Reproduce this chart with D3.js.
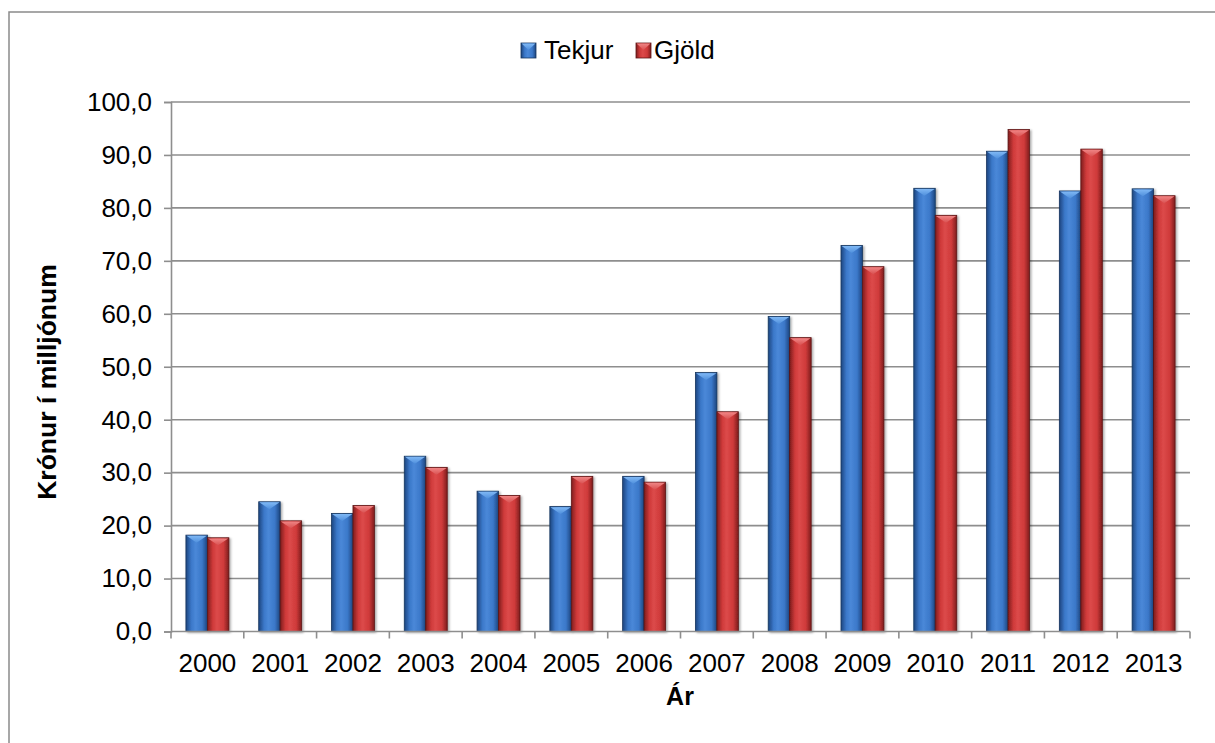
<!DOCTYPE html>
<html>
<head>
<meta charset="utf-8">
<script src="https://cdn.jsdelivr.net/npm/d3@7"></script>
<style>
  body { margin: 0; background: #fff; }
  svg { display: block; font-family: Arial, "Liberation Sans", sans-serif; }
</style>
</head>
<body>
<div id="chart"></div>
<script>
var years = ["2000","2001","2002","2003","2004","2005","2006","2007","2008","2009","2010","2011","2012","2013"];
var tekjur = [18.2, 24.5, 22.3, 33.1, 26.5, 23.6, 29.3, 48.9, 59.5, 72.9, 83.7, 90.7, 83.2, 83.6];
var gjold  = [17.7, 20.9, 23.8, 31.0, 25.7, 29.3, 28.2, 41.5, 55.5, 68.9, 78.6, 94.8, 91.1, 82.3];
var seriesNames = ["Tekjur", "Gjöld"];
var yTicks = [0, 10, 20, 30, 40, 50, 60, 70, 80, 90, 100];

function BarChart() {
  var W = 1215, H = 743;
  var left = 171, right = 1190, top = 102, bottom = 631.5;

  var svg = d3.select("#chart").append("svg")
    .attr("width", W)
    .attr("height", H);

  var defs = svg.append("defs");

  // cylinder-ish horizontal shading for each colour
  var palettes = {
    Tekjur: { edge: "#1d457f", mid: "#3b78c9", light: "#4a88d8", tip: "#7fb8f5", tipEdge: "#4f8fdc" },
    "Gjöld": { edge: "#7e1d1d", mid: "#cf3a3a", light: "#dc4a4a", tip: "#f08585", tipEdge: "#d95050" }
  };
  seriesNames.forEach(function(name, i) {
    var p = palettes[name];
    var g = defs.append("linearGradient").attr("id", "body" + i)
      .attr("x1", "0").attr("x2", "1").attr("y1", "0").attr("y2", "0");
    g.append("stop").attr("offset", "0%").attr("stop-color", p.edge);
    g.append("stop").attr("offset", "25%").attr("stop-color", p.mid);
    g.append("stop").attr("offset", "45%").attr("stop-color", p.light);
    g.append("stop").attr("offset", "75%").attr("stop-color", p.mid);
    g.append("stop").attr("offset", "100%").attr("stop-color", p.edge);

    var t = defs.append("linearGradient").attr("id", "tip" + i)
      .attr("x1", "0").attr("x2", "0").attr("y1", "0").attr("y2", "1");
    t.append("stop").attr("offset", "0%").attr("stop-color", p.tip);
    t.append("stop").attr("offset", "100%").attr("stop-color", p.tipEdge);
  });

  var shadow = defs.append("filter").attr("id", "shadow")
    .attr("x", "-20%").attr("y", "-5%").attr("width", "150%").attr("height", "115%");
  shadow.append("feDropShadow").attr("dx", 1.5).attr("dy", 1).attr("stdDeviation", 1.2)
    .attr("flood-color", "#000").attr("flood-opacity", 0.35);

  // outer chart border (runs off the right/bottom edge)
  svg.append("rect")
    .attr("x", 9).attr("y", 12)
    .attr("width", 1230).attr("height", 760)
    .attr("fill", "none")
    .attr("stroke", "#8a8a8a")
    .attr("stroke-width", 1.5);

  var xScale = d3.scaleBand()
    .domain(years)
    .range([left, right])
    .paddingInner(0.41)
    .paddingOuter(0.205);

  var xSeries = d3.scaleBand()
    .domain(seriesNames)
    .range([0, xScale.bandwidth()]);

  var yScale = d3.scaleLinear()
    .domain([0, 100])
    .range([bottom, top]);

  // gridlines
  svg.append("g")
    .selectAll("line")
    .data(yTicks.slice(1))
    .enter()
    .append("line")
    .attr("x1", left).attr("x2", right)
    .attr("y1", function(d) { return yScale(d); })
    .attr("y2", function(d) { return yScale(d); })
    .attr("stroke", "#8e8e8e")
    .attr("stroke-width", 1.6);

  // bars
  var data = [];
  years.forEach(function(y, i) {
    data.push({ year: y, s: 0, v: tekjur[i] });
    data.push({ year: y, s: 1, v: gjold[i] });
  });

  var bars = svg.append("g").selectAll("g.bar")
    .data(data)
    .enter()
    .append("g")
    .attr("class", "bar")
    .attr("filter", "url(#shadow)");

  bars.append("rect")
    .attr("x", function(d) { return xScale(d.year) + xSeries(seriesNames[d.s]); })
    .attr("y", function(d) { return yScale(d.v); })
    .attr("width", xSeries.bandwidth())
    .attr("height", function(d) { return yScale(0) - yScale(d.v); })
    .attr("fill", function(d) { return "url(#body" + d.s + ")"; })
    .attr("stroke", function(d) { return d.s === 0 ? "#16365f" : "#5e1414"; })
    .attr("stroke-width", 0.8);

  // bevelled top: downward triangle
  bars.append("path")
    .attr("d", function(d) {
      var x0 = xScale(d.year) + xSeries(seriesNames[d.s]);
      var w = xSeries.bandwidth();
      var y0 = yScale(d.v);
      return "M" + (x0 + 0.6) + "," + (y0 + 0.6) +
             "L" + (x0 + w - 0.6) + "," + (y0 + 0.6) +
             "L" + (x0 + w / 2) + "," + (y0 + 7.5) + "Z";
    })
    .attr("fill", function(d) { return "url(#tip" + d.s + ")"; });

  // y axis
  var yAxis = d3.axisLeft(yScale)
    .tickValues(yTicks)
    .tickSize(7)
    .tickPadding(12)
    .tickFormat(function(d) { return d3.format(".1f")(d).replace(".", ","); });

  var gy = svg.append("g")
    .attr("transform", "translate(" + left + ",0)")
    .call(yAxis);
  gy.select(".domain").attr("stroke", "#8e8e8e").attr("stroke-width", 1.6);
  gy.selectAll(".tick line").attr("stroke", "#8e8e8e").attr("stroke-width", 1.6);
  gy.selectAll(".tick text")
    .attr("font-size", 26)
    .attr("font-family", "Arial, 'Liberation Sans', sans-serif")
    .attr("fill", "#000");

  // x axis: ticks at band boundaries
  svg.append("line")
    .attr("x1", left).attr("x2", right)
    .attr("y1", bottom).attr("y2", bottom)
    .attr("stroke", "#8e8e8e").attr("stroke-width", 1.6);

  var step = xScale.step();
  var boundaries = years.map(function(y) { return xScale(y) - xScale.paddingOuter() * step; });
  boundaries.push(right);
  svg.append("g").selectAll("line")
    .data(boundaries)
    .enter()
    .append("line")
    .attr("x1", function(d) { return d; })
    .attr("x2", function(d) { return d; })
    .attr("y1", bottom).attr("y2", bottom + 7)
    .attr("stroke", "#8e8e8e").attr("stroke-width", 1.6);

  svg.append("g").selectAll("text")
    .data(years)
    .enter()
    .append("text")
    .attr("x", function(d) { return xScale(d) + xScale.bandwidth() / 2; })
    .attr("y", 672)
    .attr("text-anchor", "middle")
    .attr("font-size", 26)
    .text(function(d) { return d; });

  // axis titles
  svg.append("text")
    .attr("x", 680).attr("y", 705)
    .attr("text-anchor", "middle")
    .attr("font-size", 25)
    .attr("font-weight", "bold")
    .text("Ár");

  svg.append("text")
    .attr("transform", "translate(56,382) rotate(-90)")
    .attr("text-anchor", "middle")
    .attr("font-size", 26.5)
    .attr("font-weight", "bold")
    .text("Krónur í milljónum");

  // legend
  var legend = svg.append("g");
  var legendX = [521, 636];
  var legendTextX = [544, 654];
  seriesNames.forEach(function(name, i) {
    var lg = legend.append("g").attr("transform", "translate(" + legendX[i] + ",43)");
    lg.append("rect")
      .attr("width", 15).attr("height", 15)
      .attr("fill", "url(#body" + i + ")")
      .attr("stroke", i === 0 ? "#16365f" : "#5e1414")
      .attr("stroke-width", 0.8);
    lg.append("path")
      .attr("d", "M0.6,0.6L14.4,0.6L7.5,7Z")
      .attr("fill", "url(#tip" + i + ")");
    legend.append("text")
      .attr("x", legendTextX[i]).attr("y", 58.5)
      .attr("font-size", 26)
      .text(name);
  });
}

window.onload = function () {
  BarChart();
};
</script>
</body>
</html>
